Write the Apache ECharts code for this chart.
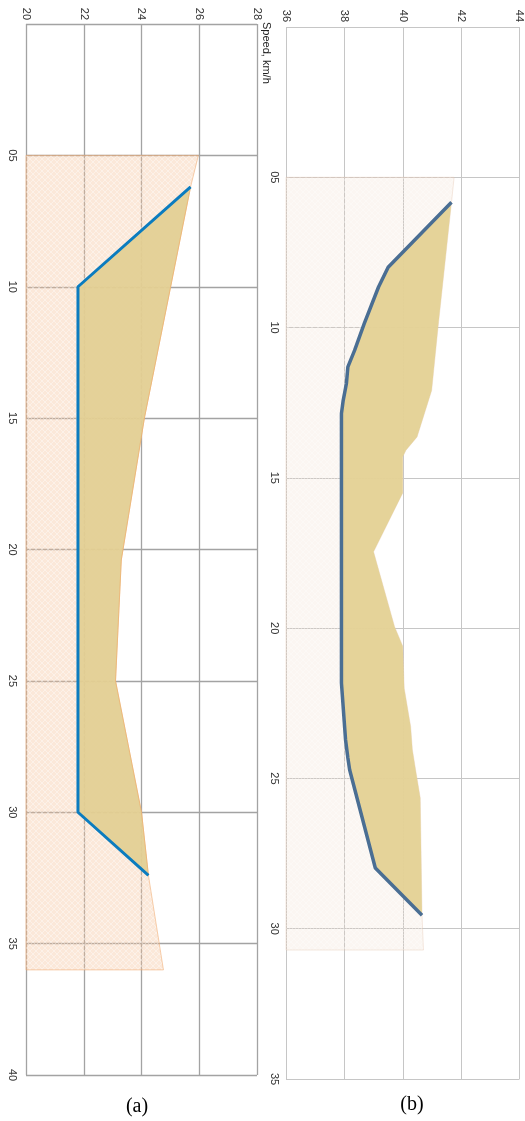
<!DOCTYPE html>
<html>
<head>
<meta charset="utf-8">
<title>Envelope charts</title>
<script src="https://cdn.jsdelivr.net/npm/echarts@6/dist/echarts.min.js"></script>
<style>
  html, body { margin: 0; padding: 0; background: #fff; }
  #chart { width: 525px; height: 1121px; }
</style>
</head>
<body>
<div id="chart"></div>
<script>
// panel (a): upper limit of the band (depth -> value) and the working line
var aLimitY = [5, 6.2, 15, 20.4, 25, 30, 32.4, 36];
var aLimitX = [25.97, 25.7, 24.1, 23.3, 23.1, 24.0, 24.24, 24.76];
var aLineY = [6.2, 10, 30, 32.4];
var aLineX = [25.7, 21.8, 21.8, 24.24];

// panel (b)
var bLimitY = [5.0, 5.83, 9.98, 12.09, 13.64, 14.08, 14.3, 15.5, 17.46, 19.95, 20.6, 22.0, 23.27, 24.05, 24.71, 25.65, 29.55, 30.71];
var bLimitX = [41.76, 41.67, 41.21, 40.99, 40.49, 40.11, 40.0, 40.0, 39.0, 39.72, 40.0, 40.05, 40.27, 40.33, 40.44, 40.6, 40.66, 40.71];
var bLineY = [5.83, 7.99, 8.65, 9.87, 10.76, 11.31, 11.86, 12.42, 12.86, 21.83, 23.71, 24.32, 24.71, 27.98, 29.55];
var bLineX = [41.67, 39.50, 39.17, 38.68, 38.35, 38.12, 38.07, 37.96, 37.90, 37.90, 38.04, 38.12, 38.18, 39.06, 40.66];

// axis ranges / ticks
var aXTicks = [20, 22, 24, 26, 28];
var aYTicks = [0, 5, 10, 15, 20, 25, 30, 35, 40];
var bXTicks = [36, 38, 40, 42, 44];
var bYTicks = [0, 5, 10, 15, 20, 25, 30, 35];

var axisName = 'Speed, km/h';

function pairs(xs, ys) {
  return xs.map(function (x, i) { return [x, ys[i]]; });
}

// hatch area: from the left axis out to the limit curve
function hatchPoly(limX, limY, xMin) {
  var pts = [[xMin, limY[0]]];
  pts = pts.concat(pairs(limX, limY));
  pts.push([xMin, limY[limY.length - 1]]);
  return pts;
}

// filled band between the line and the limit curve
function bandPoly(lineX, lineY, limX, limY) {
  var y0 = lineY[0], y1 = lineY[lineY.length - 1];
  var pts = pairs(lineX, lineY);
  var lim = pairs(limX, limY).filter(function (p) { return p[1] >= y0 && p[1] <= y1; });
  return pts.concat(lim.reverse());
}

function weave(bg, fg) {
  var c = document.createElement('canvas');
  c.width = 6; c.height = 6;
  var ctx = c.getContext('2d');
  ctx.fillStyle = bg;
  ctx.fillRect(0, 0, 6, 6);
  ctx.strokeStyle = fg;
  ctx.lineWidth = 1;
  ctx.beginPath();
  // short "/" and "\" strokes, basket-weave look
  ctx.moveTo(0, 3); ctx.lineTo(3, 0);
  ctx.moveTo(3, 6); ctx.lineTo(6, 3);
  ctx.moveTo(3, 0); ctx.lineTo(6, 3);
  ctx.moveTo(0, 3); ctx.lineTo(3, 6);
  ctx.stroke();
  return c;
}

function polySeries(idx, pts, style, z) {
  return {
    type: 'custom',
    xAxisIndex: idx,
    yAxisIndex: idx,
    silent: true,
    z: z,
    data: pts,
    renderItem: function (params, api) {
      if (params.dataIndex !== 0) return;
      return {
        type: 'polygon',
        shape: { points: pts.map(function (p) { return api.coord(p); }) },
        style: style
      };
    }
  };
}

function pad2(v) {
  return v < 10 ? '0' + v : '' + v;
}

function xAxisCfg(idx, ticks, gridColor, margin) {
  return {
    type: 'value',
    gridIndex: idx,
    position: 'top',
    min: ticks[0],
    max: ticks[ticks.length - 1],
    interval: ticks[1] - ticks[0],
    axisLine: { show: false },
    axisTick: { show: false },
    axisLabel: {
      rotate: -90,
      margin: margin,
      color: '#333',
      fontSize: 11,
      fontFamily: 'Liberation Sans, Arial, sans-serif'
    },
    splitLine: { lineStyle: { color: gridColor, width: idx === 0 ? 1.3 : 1 } }
  };
}

function yAxisCfg(idx, ticks, gridColor, margin) {
  return {
    type: 'value',
    gridIndex: idx,
    inverse: true,
    min: ticks[0],
    max: ticks[ticks.length - 1],
    interval: ticks[1] - ticks[0],
    axisLine: { show: false },
    axisTick: { show: false },
    axisLabel: {
      rotate: -90,
      margin: margin,
      showMinLabel: false,
      color: '#333',
      fontSize: 11,
      fontFamily: 'Liberation Sans, Arial, sans-serif',
      formatter: pad2
    },
    splitLine: { lineStyle: { color: gridColor, width: idx === 0 ? 1.3 : 1 } }
  };
}

var chart = echarts.init(document.getElementById('chart'), null, { renderer: 'canvas' });

var hatchA = weave('rgba(244,190,150,0.36)', 'rgba(255,255,255,0.4)');
var hatchB = weave('rgba(236,210,190,0.2)', 'rgba(255,255,255,0.35)');

chart.setOption({
  animation: false,
  backgroundColor: '#fff',
  grid: [
    { left: 26, top: 24, width: 231, height: 1051 },
    { left: 286, top: 27, width: 239, height: 1052 }
  ],
  xAxis: [
    xAxisCfg(0, aXTicks, '#a3a3a3', 4),
    xAxisCfg(1, bXTicks, '#c6c6c6', 5)
  ],
  yAxis: [
    yAxisCfg(0, aYTicks, '#a3a3a3', 8),
    yAxisCfg(1, bYTicks, '#c6c6c6', 6)
  ],
  series: [
    polySeries(0, hatchPoly(aLimitX, aLimitY, aXTicks[0]),
      { fill: { image: hatchA, repeat: 'repeat' }, stroke: 'rgba(240,170,110,0.55)', lineWidth: 1 }, 2),
    polySeries(0, bandPoly(aLineX, aLineY, aLimitX, aLimitY),
      { fill: 'rgba(226,207,146,0.93)', stroke: 'rgba(236,176,110,0.7)', lineWidth: 1 }, 3),
    {
      type: 'line',
      xAxisIndex: 0,
      yAxisIndex: 0,
      z: 4,
      showSymbol: false,
      silent: true,
      lineStyle: { color: '#0b7cbf', width: 3 },
      data: pairs(aLineX, aLineY)
    },
    polySeries(1, hatchPoly(bLimitX, bLimitY, bXTicks[0]),
      { fill: { image: hatchB, repeat: 'repeat' }, stroke: 'rgba(230,200,180,0.5)', lineWidth: 0.8 }, 2),
    polySeries(1, bandPoly(bLineX, bLineY, bLimitX, bLimitY),
      { fill: 'rgba(228,209,149,0.96)' }, 3),
    {
      type: 'line',
      xAxisIndex: 1,
      yAxisIndex: 1,
      z: 4,
      showSymbol: false,
      silent: true,
      lineStyle: { color: '#4a6e93', width: 3.5 },
      data: pairs(bLineX, bLineY)
    }
  ],
  graphic: [
    {
      type: 'text',
      x: 266,
      y: 22,
      rotation: -Math.PI / 2,
      style: {
        text: axisName,
        fill: '#222',
        font: '11px "Liberation Sans", Arial, sans-serif',
        textAlign: 'left',
        textVerticalAlign: 'middle'
      }
    },
    {
      type: 'text',
      x: 137,
      y: 1107,
      style: {
        text: '(a)',
        fill: '#000',
        font: '20px "Liberation Serif", "Times New Roman", serif',
        textAlign: 'center',
        textVerticalAlign: 'middle'
      }
    },
    {
      type: 'text',
      x: 412,
      y: 1105,
      style: {
        text: '(b)',
        fill: '#000',
        font: '20px "Liberation Serif", "Times New Roman", serif',
        textAlign: 'center',
        textVerticalAlign: 'middle'
      }
    }
  ]
});
</script>
</body>
</html>
